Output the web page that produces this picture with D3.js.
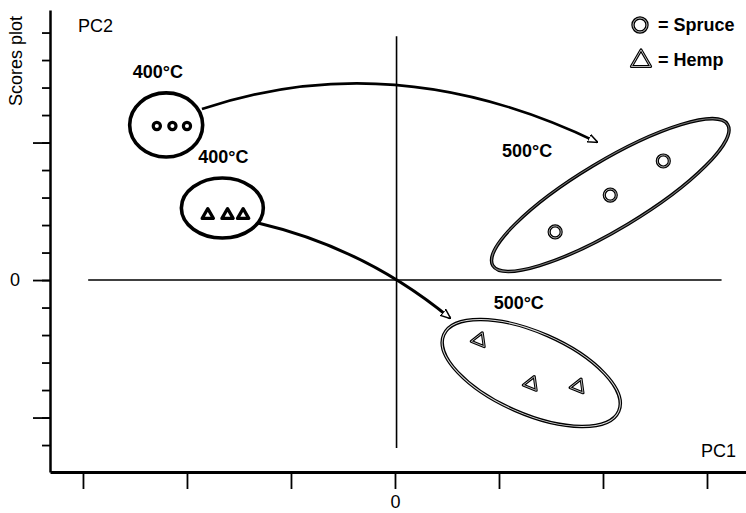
<!DOCTYPE html>
<html>
<head>
<meta charset="utf-8">
<script src="https://cdn.jsdelivr.net/npm/d3@7"></script>
<style>
  body { margin: 0; background: #fff; }
  svg { display: block; font-family: "Liberation Sans", Arial, sans-serif; }
  .axis path, .axis line { stroke: #000; }
</style>
</head>
<body>
<svg width="746" height="513"></svg>
<script>
// scores (PC1, PC2)
var spruce400 = [[-2.29, 5.60], [-2.14, 5.60], [-2.00, 5.60]];
var hemp400   = [[-1.80, 2.36], [-1.61, 2.36], [-1.46, 2.36]];
var spruce500 = [[1.54, 1.75], [2.07, 3.09], [2.58, 4.33]];
var hemp500   = [[0.81, -2.19], [1.31, -3.78], [1.76, -3.87]];

// group ellipses: centre, semi axes (PC1 units), rotation
var groups = [
  { cx: -2.20, cy: 5.64, a: 0.351, b: 0.308, rot: 0,   inner: null },
  { cx: -1.66, cy: 2.62, a: 0.394, b: 0.288, rot: 0,   inner: null },
  { cx: 2.07,  cy: 3.09, a: 1.317, b: 0.327, rot: -31, inner: "#777" },
  { cx: 1.31,  cy: -3.38, a: 0.918, b: 0.392, rot: 23.6, inner: "#ddd" }
];

var tempLabels = [
  { text: "400°C", x: -2.28, y: 7.35 },
  { text: "400°C", x: -1.65, y: 4.26 },
  { text: "500°C", x: 1.27,  y: 4.47 },
  { text: "500°C", x: 1.19,  y: -1.06 }
];

// arrows: start, control, end
var arrows = [
  [[-1.856, 6.218], [-0.005, 8.564], [1.942, 5.018]],
  [[-1.317, 2.073], [-0.288, 1.164], [0.529, -1.382]]
];

var xTicks = [-3, -2, -1, 0, 1, 2, 3];
var yMinor = d3.range(-6, 10);
var yMajor = [-5, 0, 5];

var svg = d3.select("svg");

var x = d3.scaleLinear().domain([-3.317, 3.375]).range([50, 746]);
var y = d3.scaleLinear().domain([-6.98, 9.82]).range([472, 10]);
var unit = x(1) - x(0);

// inner cross through origin
svg.append("line")
    .attr("x1", x(-2.95)).attr("x2", x(3.14))
    .attr("y1", y(0)).attr("y2", y(0))
    .attr("stroke", "#000").attr("stroke-width", 1.6);
svg.append("line")
    .attr("x1", x(0.015)).attr("x2", x(0.015))
    .attr("y1", y(8.87)).attr("y2", y(-6.11))
    .attr("stroke", "#000").attr("stroke-width", 1.6);

// axes
var yAxisMinor = svg.append("g").attr("class", "axis")
    .attr("transform", "translate(50,0)")
    .call(d3.axisLeft(y).tickValues(yMinor).tickSize(8).tickSizeOuter(0).tickFormat(""));
yAxisMinor.select(".domain").attr("stroke-width", 2.5);
yAxisMinor.selectAll(".tick line").attr("stroke-width", 1.8);

var yAxisMajor = svg.append("g").attr("class", "axis")
    .attr("transform", "translate(50,0)")
    .call(d3.axisLeft(y).tickValues(yMajor).tickSize(17).tickSizeOuter(0).tickPadding(13)
      .tickFormat(function(d) { return d === 0 ? "0" : ""; }));
yAxisMajor.select(".domain").remove();
yAxisMajor.selectAll(".tick line").attr("stroke-width", 1.8);
yAxisMajor.selectAll("text").attr("font-size", 18).attr("font-family", "Liberation Sans, Arial, sans-serif").attr("fill", "#000");

var xAxis = svg.append("g").attr("class", "axis")
    .attr("transform", "translate(0," + y(-6.98) + ")")
    .call(d3.axisBottom(x).tickValues(xTicks).tickSize(17).tickSizeOuter(0).tickPadding(6)
      .tickFormat(function(d) { return d === 0 ? "0" : ""; }));
xAxis.select(".domain").attr("stroke-width", 2.8);
xAxis.selectAll(".tick line").attr("stroke-width", 1.8);
xAxis.selectAll("text").attr("font-size", 18).attr("font-family", "Liberation Sans, Arial, sans-serif").attr("fill", "#000");

// axis titles
svg.append("text").attr("x", 78).attr("y", 32)
    .attr("font-size", 18).text("PC2");
svg.append("text").attr("x", 736).attr("y", 457)
    .attr("text-anchor", "end").attr("font-size", 18).text("PC1");
svg.append("text")
    .attr("transform", "translate(22,61) rotate(-90)")
    .attr("text-anchor", "middle").attr("font-size", 18).text("Scores plot");

// arrows
var defs = svg.append("defs");
defs.append("marker")
    .attr("id", "head")
    .attr("viewBox", "0 -5 10 10")
    .attr("refX", 9).attr("refY", 0)
    .attr("markerWidth", 10).attr("markerHeight", 10)
    .attr("markerUnits", "userSpaceOnUse")
    .attr("orient", "auto")
  .append("path")
    .attr("d", "M0,-4L10,0L0,4Z")
    .attr("fill", "#fff").attr("stroke", "#000").attr("stroke-width", 1.5);

svg.selectAll(".arrow")
  .data(arrows)
  .enter().append("path")
    .attr("class", "arrow")
    .attr("d", function(d) {
      return "M" + x(d[0][0]) + "," + y(d[0][1]) +
             "Q" + x(d[1][0]) + "," + y(d[1][1]) + " " + x(d[2][0]) + "," + y(d[2][1]);
    })
    .attr("fill", "none")
    .attr("stroke", "#000")
    .attr("stroke-width", function(d, i) { return i === 0 ? 2.6 : 3; })
    .attr("marker-end", "url(#head)");

// group ellipses
var ell = svg.selectAll(".grp")
  .data(groups)
  .enter().append("g")
    .attr("class", "grp")
    .attr("transform", function(d) {
      return "translate(" + x(d.cx) + "," + y(d.cy) + ") rotate(" + d.rot + ")";
    });
ell.append("ellipse")
    .attr("rx", function(d) { return d.a * unit; })
    .attr("ry", function(d) { return d.b * unit; })
    .attr("fill", "none").attr("stroke", "#000")
    .attr("stroke-width", function(d) { return d.inner ? 3.4 : 3.6; });
ell.filter(function(d) { return d.inner; })
  .append("ellipse")
    .attr("rx", function(d) { return d.a * unit; })
    .attr("ry", function(d) { return d.b * unit; })
    .attr("fill", "none").attr("stroke", function(d) { return d.inner; }).attr("stroke-width", 1);

// markers
function rings(data, r, sw, dbl) {
  var g = svg.append("g");
  g.selectAll("circle.o")
    .data(data)
    .enter().append("circle").attr("class", "o")
      .attr("cx", function(d) { return x(d[0]); })
      .attr("cy", function(d) { return y(d[1]); })
      .attr("r", r)
      .attr("fill", "#fff").attr("stroke", "#000").attr("stroke-width", sw);
  if (dbl) {
    g.selectAll("circle.i")
      .data(data)
      .enter().append("circle").attr("class", "i")
        .attr("cx", function(d) { return x(d[0]); })
        .attr("cy", function(d) { return y(d[1]); })
        .attr("r", r)
        .attr("fill", "none").attr("stroke", "#bbb").attr("stroke-width", 0.9);
  }
}
function tris(data, area, rot, sw, dbl) {
  var sym = d3.symbol(d3.symbolTriangle, area);
  var g = svg.append("g");
  g.selectAll("path.o")
    .data(data)
    .enter().append("path").attr("class", "o")
      .attr("d", sym)
      .attr("transform", function(d) { return "translate(" + x(d[0]) + "," + y(d[1]) + ") rotate(" + rot + ")"; })
      .attr("fill", "#fff").attr("stroke", "#000").attr("stroke-width", sw)
      .attr("stroke-linejoin", "round");
  if (dbl) {
    g.selectAll("path.i")
      .data(data)
      .enter().append("path").attr("class", "i")
        .attr("d", sym)
        .attr("transform", function(d) { return "translate(" + x(d[0]) + "," + y(d[1]) + ") rotate(" + rot + ")"; })
        .attr("fill", "none").attr("stroke", "#bbb").attr("stroke-width", 0.9);
  }
}

rings(spruce400, 3.6, 3.2, false);
rings(spruce500, 6, 3.2, true);
tris(hemp400, 55, 0, 3.2, false);
tris(hemp500, 85, -98, 3, true);

// temperature labels
svg.selectAll(".temp")
  .data(tempLabels)
  .enter().append("text")
    .attr("class", "temp")
    .attr("x", function(d) { return x(d.x); })
    .attr("y", function(d) { return y(d.y); })
    .attr("text-anchor", "middle")
    .attr("font-size", 18).attr("font-weight", "bold")
    .text(function(d) { return d.text; });

// legend
var leg = svg.append("g");
leg.append("circle").attr("cx", 640).attr("cy", 25).attr("r", 7)
    .attr("fill", "#fff").attr("stroke", "#000").attr("stroke-width", 3.4);
leg.append("circle").attr("cx", 640).attr("cy", 25).attr("r", 7)
    .attr("fill", "none").attr("stroke", "#bbb").attr("stroke-width", 1);
leg.append("path").attr("d", d3.symbol(d3.symbolTriangle, 160)())
    .attr("transform", "translate(641,61)")
    .attr("fill", "#fff").attr("stroke", "#000").attr("stroke-width", 3).attr("stroke-linejoin", "round");
leg.append("path").attr("d", d3.symbol(d3.symbolTriangle, 160)())
    .attr("transform", "translate(641,61)")
    .attr("fill", "none").attr("stroke", "#bbb").attr("stroke-width", 1);
leg.append("text").attr("x", 658).attr("y", 31)
    .attr("font-size", 18).attr("font-weight", "bold").text("= Spruce");
leg.append("text").attr("x", 658).attr("y", 66)
    .attr("font-size", 18).attr("font-weight", "bold").text("= Hemp");
</script>
</body>
</html>
